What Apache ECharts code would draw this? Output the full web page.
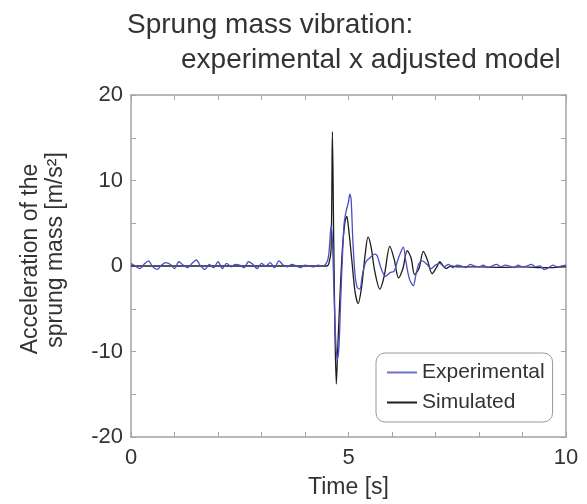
<!DOCTYPE html>
<html>
<head>
<meta charset="utf-8">
<script src="https://cdn.jsdelivr.net/npm/echarts@6/dist/echarts.min.js"></script>
<style>
  html, body { margin: 0; padding: 0; background: #fff; }
  #main { width: 587px; height: 504px; }
</style>
</head>
<body>
<div id="main"></div>
<script>
/** time axis [s] of the measured signal */
var expTime = [
    0.0, 0.1, 0.2, 0.3, 0.4, 0.5, 0.6, 0.7, 0.8, 0.9,
    1.0, 1.1, 1.2, 1.3, 1.4, 1.5, 1.6, 1.7, 1.8, 1.9,
    2.0, 2.1, 2.2, 2.3, 2.4, 2.5, 2.6, 2.7, 2.8, 2.9,
    3.0, 3.1, 3.2, 3.3, 3.4, 3.5, 3.6, 3.7, 3.8, 3.9,
    4.0, 4.1, 4.2, 4.3, 4.4, 4.5,
    4.55, 4.60, 4.63, 4.66, 4.70, 4.74, 4.78, 4.82, 4.86, 4.90,
    4.95, 5.00, 5.03, 5.06, 5.10, 5.15, 5.20, 5.26, 5.32, 5.40,
    5.50, 5.60, 5.66, 5.75, 5.85, 5.95, 6.05, 6.12, 6.20, 6.26,
    6.32, 6.40, 6.49, 6.55, 6.62, 6.70, 6.80, 6.90, 7.00, 7.10,
    7.2, 7.3, 7.4, 7.5, 7.6, 7.7, 7.8, 7.9, 8.0, 8.1,
    8.2, 8.3, 8.4, 8.5, 8.6, 8.7, 8.8, 8.9, 9.0, 9.1,
    9.2, 9.3, 9.4, 9.5, 9.6, 9.7, 9.8, 9.9, 10.0
]
/** measured acceleration [m/s2] */
var expAccel = [
    0.3, 0.0, -0.3, 0.2, 0.6, -0.1, -0.4, 0.1, 0.4, 0.2,
    -0.3, 0.5, 0.1, -0.2, 0.3, 0.7, 0.0, -0.4, 0.2, -0.2,
    0.5, -0.3, 0.3, -0.1, 0.2, 0.1, -0.2, 0.5, 0.2, -0.3,
    0.3, 0.0, 0.4, -0.2, 0.6, 0.1, -0.1, 0.2, 0.0, -0.2,
    0.1, 0.0, -0.1, 0.1, 0.0, 0.4,
    1.5, 4.7, 3.0, -2, -8, -11, -9.5, -4, 1, 5,
    6.5, 7.5, 8.4, 7.8, 3, -1, -2.5, -2.7, -1, 0.5,
    1.0, 1.4, 1.2, -0.3, -1.2, -0.8, -0.6, 0.5, 1.6, 2.2,
    0.5, -1.5, -2.3, -1.0, 0.3, 0.6, 0.2, -0.3, 0.1, 0.3,
    -0.1, 0.2, -0.2, 0.1, 0.0, -0.2, 0.2, 0.0, -0.1, 0.1,
    -0.2, 0.0, 0.2, -0.1, 0.1, 0.0, -0.2, 0.1, -0.1, 0.0,
    0.2, -0.1, 0.0, -0.4, -0.2, 0.1, -0.1, 0.0, 0.1
]

/** time axis [s] of the adjusted model */
var simTime = [
    0, 4.5, 4.55, 4.60, 4.63, 4.66, 4.69, 4.72, 4.75, 4.80,
    4.86, 4.92, 4.96, 5.00, 5.08, 5.15, 5.22, 5.30, 5.38, 5.45,
    5.52, 5.60, 5.72, 5.82, 5.95, 6.05, 6.15, 6.25, 6.35, 6.44,
    6.52, 6.62, 6.72, 6.82, 6.92, 7.02, 7.10, 7.18, 7.25, 7.35,
    7.5, 8.0, 8.5, 9.0, 9.5, 10
]
/** simulated acceleration [m/s2] */
var simAccel = [
    0, 0, 0.3, 2, 15.7, 3, -8, -13.8, -10, -4,
    2, 5.2, 5.8, 4.5, 0.5, -3.0, -4.4, -2.5, 1.2, 3.4,
    2.2, -0.5, -2.7, -1.2, 2.3, 0.8, -1.4, -0.3, 1.8, 0.9,
    -1.0, -0.3, 1.7, 0.6, -0.9, -0.2, 0.5, 0.0, -0.3, 0.0,
    -0.1, -0.1, -0.15, -0.1, -0.2, -0.1
]

var seriesNames = ['Experimental', 'Simulated']
var titleLines = ['Sprung mass vibration:', 'experimental x adjusted model']
var yNameLines = ['Acceleration of the', 'sprung mass [m/s\u00B2]']
var xName = 'Time [s]'

function zip (t, v) {
    var out = []
    for (var i = 0; i < t.length; i++) {
        out.push([t[i], v[i]])
    }
    return out
}

var font = "'Liberation Sans', Arial, sans-serif"
var axisGray = '#a3a3a3'
var textColor = '#333'

// box axes: bottom/left carry labels, top/right only ticks
function boxAxis (extra) {
    var a = {
        type: 'value',
        axisLine: { show: true, onZero: false, lineStyle: { color: axisGray, width: 1.5 } },
        axisTick: { show: true, inside: true, length: 5, lineStyle: { color: axisGray, width: 1 } },
        splitLine: { show: false },
        axisLabel: { show: false }
    }
    for (var k in extra) a[k] = extra[k]
    return a
}

var chart = echarts.init(document.getElementById('main'))

var option = {
    animation: false,
    backgroundColor: '#fff',
    title: [{
        text: titleLines[0],
        left: 127,
        top: 11,
        padding: 0,
        textStyle: { fontFamily: font, fontSize: 28, fontWeight: 'normal', color: textColor }
    }, {
        text: titleLines[1],
        left: 181,
        top: 46,
        padding: 0,
        textStyle: { fontFamily: font, fontSize: 28, fontWeight: 'normal', color: textColor }
    }],
    grid: { left: 131, right: 21, top: 95, bottom: 65 },
    legend: {
        data: seriesNames,
        orient: 'vertical',
        left: 376,
        top: 353,
        padding: [9, 8, 9, 11],
        itemWidth: 30,
        itemHeight: 2,
        itemGap: 9,
        icon: 'rect',
        borderColor: '#9a9a9a',
        borderWidth: 1,
        borderRadius: 9,
        backgroundColor: '#fff',
        textStyle: { fontFamily: font, fontSize: 21, color: textColor }
    },
    xAxis: [
        boxAxis({
            min: 0, max: 10, interval: 1, position: 'bottom',
            name: xName, nameLocation: 'middle', nameGap: 39,
            nameTextStyle: { fontFamily: font, fontSize: 23, color: textColor },
            axisLabel: {
                show: true, margin: 10, fontFamily: font, fontSize: 22, color: textColor,
                formatter: function (v) { return v % 5 === 0 ? String(v) : '' }
            }
        }),
        boxAxis({ min: 0, max: 10, interval: 1, position: 'top' })
    ],
    yAxis: [
        boxAxis({
            min: -20, max: 20, interval: 5, position: 'left',
            axisLabel: {
                show: true, margin: 8, fontFamily: font, fontSize: 22, color: textColor,
                formatter: function (v) { return v % 10 === 0 ? String(v) : '' }
            }
        }),
        boxAxis({ min: -20, max: 20, interval: 5, position: 'right' })
    ],
    graphic: [{
        type: 'text',
        x: 31,
        y: 259,
        rotation: Math.PI / 2,
        style: { text: yNameLines[0], fontFamily: font, fontSize: 23, fill: textColor, align: 'center', verticalAlign: 'middle' }
    }, {
        type: 'text',
        x: 56,
        y: 250,
        rotation: Math.PI / 2,
        style: { text: yNameLines[1], fontFamily: font, fontSize: 23, fill: textColor, align: 'center', verticalAlign: 'middle' }
    }],
    series: [{
        // drawn first so the measured trace sits on top
        name: seriesNames[1],
        type: 'line',
        data: zip(simTime, simAccel),
        showSymbol: false,
        smooth: 0.3,
        z: 2,
        lineStyle: { color: '#1c1c1c', width: 1.3 },
        itemStyle: { color: '#1c1c1c' }
    }, {
        name: seriesNames[0],
        type: 'line',
        data: zip(expTime, expAccel),
        showSymbol: false,
        smooth: 0.3,
        z: 3,
        lineStyle: { color: '#4d4dc2', width: 1.3 },
        itemStyle: { color: '#6e6ecc' }
    }]
}

chart.setOption(option)
window.onresize = chart.resize
</script>
</body>
</html>
